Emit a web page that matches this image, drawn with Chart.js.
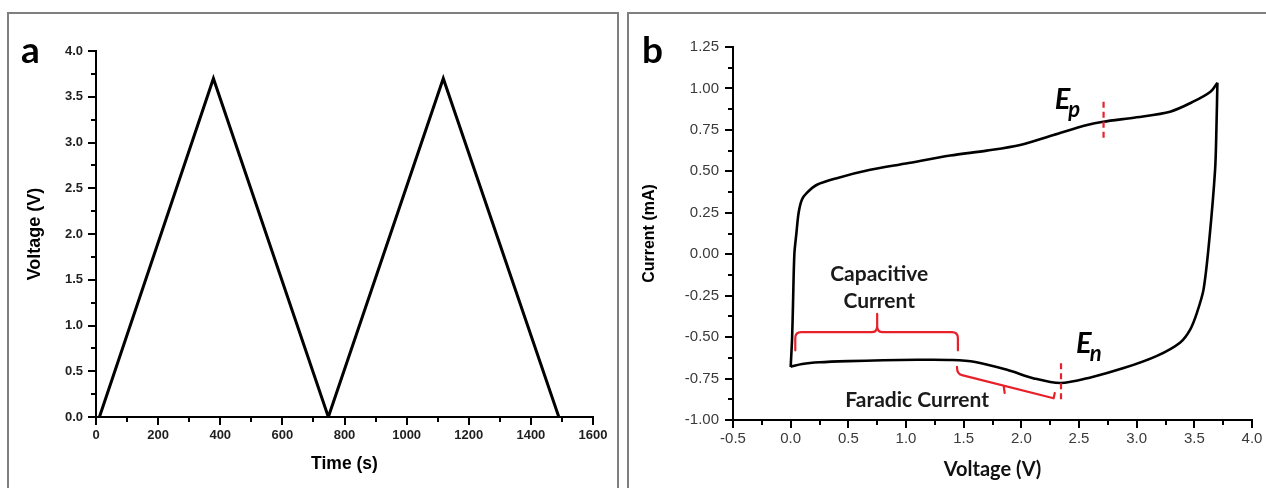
<!DOCTYPE html>
<html><head><meta charset="utf-8">
<script src="https://cdn.jsdelivr.net/npm/chart.js@4.4.1/dist/chart.umd.min.js"></script>
<style>
html,body{margin:0;padding:0;background:#fff;width:1266px;height:488px;overflow:hidden;position:relative}
.box{position:absolute;border:2px solid #7f7f7f;box-sizing:border-box}
#boxA{left:7px;top:12px;width:612px;height:520px}
#boxB{left:627px;top:12px;width:700px;height:520px}
canvas{position:absolute;top:0}
#cA{left:0}
#cB{left:620px}
</style></head><body>
<div class="box" id="boxA"></div><div class="box" id="boxB"></div>
<canvas id="cA" width="620" height="488"></canvas>
<canvas id="cB" width="646" height="488"></canvas>
<script>
// ---------- Panel a : galvanostatic charge / discharge ----------
const timeS    = [11, 378, 748, 1118, 1490];
const voltageA = [0, 3.7, 0, 3.7, 0];

// ---------- Panel b : cyclic voltammogram ----------
const upperV = [0.000, 0.012, 0.020, 0.032, 0.050, 0.069, 0.098, 0.140, 0.228, 0.400, 0.690, 1.000, 1.384, 1.700, 1.990, 2.280, 2.570, 2.710, 3.000, 3.290, 3.490, 3.640, 3.700];
const upperI = [-0.680, -0.513, -0.310, 0.000, 0.128, 0.250, 0.330, 0.370, 0.419, 0.459, 0.509, 0.547, 0.595, 0.625, 0.659, 0.719, 0.779, 0.799, 0.826, 0.860, 0.920, 0.980, 1.034];
const lowerV = [3.700, 3.692, 3.680, 3.630, 3.580, 3.523, 3.465, 3.378, 3.176, 2.887, 2.600, 2.340, 2.110, 1.876, 1.600, 1.400, 1.100, 0.800, 0.500, 0.250, 0.100, 0.000];
const lowerI = [1.034, 0.770, 0.510, 0.088, -0.212, -0.352, -0.453, -0.532, -0.613, -0.687, -0.743, -0.777, -0.749, -0.697, -0.650, -0.638, -0.637, -0.640, -0.645, -0.652, -0.662, -0.678];

// annotation anchors (data units of panel b)
const capBrace   = [0.04, 1.45, -0.47, -0.58, 0.75, -0.36];   // x1, x2, level, end level, tip x, tip level
const faraBrace  = [1.442, -0.68, -0.723, 2.28, -0.869, 2.29, -0.837]; // hook top, start, end, hook end
const faraTick   = [1.846, -0.793, 1.856, -0.837];
const dashEn     = [2.344, -0.657, -0.897];
const dashEp     = [2.713, 0.920, 0.679];
const textLabels = [['Capacitive', 0.768, -0.122], ['Current', 0.768, -0.282], ['Faradic Current', 1.097, -0.879]];
const peakLabels = [['E', 'n', 2.475, -0.597], ['E', 'p', 2.290, 0.879]];

const RED = '#e8202a';

const minorTicks = {
  id: 'minorTicks',
  afterDraw(chart) {
    const ctx = chart.ctx;
    ctx.save(); ctx.strokeStyle = '#000'; ctx.lineWidth = 2;
    ['x', 'y'].forEach(id => {
      const s = chart.scales[id];
      const t = s.ticks;
      for (let i = 0; i < t.length - 1; i++) {
        const p = Math.round(s.getPixelForValue((t[i].value + t[i + 1].value) / 2));
        ctx.beginPath();
        if (id === 'x') { ctx.moveTo(p, s.top); ctx.lineTo(p, s.top + 5); }
        else { ctx.moveTo(s.right, p); ctx.lineTo(s.right - 5, p); }
        ctx.stroke();
      }
    });
    ctx.restore();
  }
};

function panelLetter(letter, x, y) {
  return { id: 'letter' + letter, afterDraw(chart) {
    const ctx = chart.ctx; ctx.save();
    ctx.font = 'bold 37px Lato, "Open Sans", sans-serif'; ctx.fillStyle = '#000';
    ctx.textBaseline = 'alphabetic'; ctx.fillText(letter, x, y); ctx.restore();
  }};
}

const annotations = {
  id: 'annotations',
  afterDatasetsDraw(chart) {
    const ctx = chart.ctx, X = v => chart.scales.x.getPixelForValue(v), Y = v => chart.scales.y.getPixelForValue(v);
    ctx.save();
    ctx.strokeStyle = RED; ctx.lineWidth = 2.2; ctx.lineJoin = 'round'; ctx.lineCap = 'round';
    // capacitive curly brace
    const [x1, x2, lv, en, tx, tl] = capBrace;
    const px1 = X(x1), px2 = X(x2), py = Y(lv), pe = Y(en), pt = X(tx), ptt = Y(tl), r = 6;
    ctx.beginPath();
    ctx.moveTo(px1, pe); ctx.lineTo(px1, py + r); ctx.quadraticCurveTo(px1, py, px1 + r, py);
    ctx.lineTo(pt - r, py); ctx.quadraticCurveTo(pt, py, pt, py - r); ctx.lineTo(pt, ptt);
    ctx.moveTo(pt, py - r); ctx.quadraticCurveTo(pt, py, pt + r, py);
    ctx.lineTo(px2 - r, py); ctx.quadraticCurveTo(px2, py, px2, py + r); ctx.lineTo(px2, pe);
    ctx.stroke();
    // faradic bracket
    const [fx, fyTop, fy1, fx2, fy2, hx, hy] = faraBrace;
    ctx.beginPath();
    ctx.moveTo(X(fx), Y(fyTop)); ctx.quadraticCurveTo(X(fx), Y(fy1), X(fx) + 5, Y(fy1) + 1);
    ctx.lineTo(X(fx2), Y(fy2)); ctx.lineTo(X(hx), Y(hy));
    ctx.moveTo(X(faraTick[0]), Y(faraTick[1])); ctx.lineTo(X(faraTick[2]), Y(faraTick[3]));
    ctx.stroke();
    // dashed peak markers
    ctx.setLineDash([6, 4]); ctx.lineCap = 'butt';
    [dashEn, dashEp].forEach(d => { ctx.beginPath(); ctx.moveTo(X(d[0]), Y(d[1])); ctx.lineTo(X(d[0]), Y(d[2])); ctx.stroke(); });
    ctx.setLineDash([]);
    // texts
    ctx.fillStyle = '#1a1a1a'; ctx.textAlign = 'center'; ctx.textBaseline = 'middle';
    ctx.font = 'bold 21px Lato, "Open Sans", sans-serif';
    textLabels.forEach(t => ctx.fillText(t[0], X(t[1]), Y(t[2])));
    ctx.fillStyle = '#000'; ctx.textAlign = 'left'; ctx.textBaseline = 'alphabetic';
    peakLabels.forEach(t => {
      const bx = X(t[2]), by = Y(t[3]);
      ctx.font = 'italic bold 29px Lato, "Open Sans", sans-serif';
      ctx.fillText(t[0], bx, by);
      const w = ctx.measureText(t[0]).width;
      ctx.font = 'italic bold 22px Lato, "Open Sans", sans-serif';
      ctx.fillText(t[1], bx + w - 2, by + 8);
    });
    ctx.restore();
  }
};

const axisCommon = (stepSize, fmt, font, color, pad) => ({
  type: 'linear',
  ticks: { stepSize, callback: v => v.toFixed(fmt), font, color, padding: pad, maxRotation: 0, autoSkip: false },
  grid: { drawOnChartArea: false, drawTicks: true, tickLength: 8, color: '#000', lineWidth: 2, tickWidth: 2 },
  border: { display: true, color: '#000', width: 2 }
});

// ---- Chart a
const fontA = { family: '"Liberation Sans", Arial, sans-serif', size: 13, weight: 'bold' };
const xa = axisCommon(200, 0, fontA, '#1f1f1f', 3);
Object.assign(xa, { min: 0, max: 1600, afterFit: s => { s.height = 71; },
  title: { display: true, text: 'Time (s)', color: '#000', font: { family: '"Liberation Sans", Arial, sans-serif', size: 17.5, weight: 'bold' }, padding: { top: 0, bottom: 13 } } });
const ya = axisCommon(0.5, 1, fontA, '#1f1f1f', 5);
Object.assign(ya, { min: 0, max: 4, afterFit: s => { s.width = 96; },
  title: { display: true, text: 'Voltage (V)', color: '#000', font: { family: '"Liberation Sans", Arial, sans-serif', size: 18, weight: 'bold' }, padding: { top: 24, bottom: 0 } } });

new Chart(document.getElementById('cA'), {
  type: 'line',
  data: { datasets: [{ data: timeS.map((t, i) => ({ x: t, y: voltageA[i] })), borderColor: '#000', borderWidth: 3, pointRadius: 0, tension: 0, fill: false }] },
  options: {
    responsive: false, animation: false, devicePixelRatio: 1,
    layout: { padding: { left: 0, top: 51, right: 27, bottom: 0 }, autoPadding: false },
    plugins: { legend: { display: false }, tooltip: { enabled: false } },
    scales: { x: xa, y: ya }
  },
  plugins: [minorTicks, panelLetter('a', 21, 63)]
});

// ---- Chart b
const fontB = { family: '"Liberation Sans", Arial, sans-serif', size: 15, weight: 'normal' };
const xb = axisCommon(0.5, 1, fontB, '#3a3a3a', 2);
Object.assign(xb, { min: -0.5, max: 4.0, afterFit: s => { s.height = 68; },
  title: { display: true, text: 'Voltage (V)', color: '#111', font: { family: 'Lato, "Open Sans", sans-serif', size: 20, weight: 'bold' }, padding: { top: 0, bottom: 6 } } });
const yb = axisCommon(0.25, 2, fontB, '#3a3a3a', 6);
Object.assign(yb, { min: -1.0, max: 1.25, afterFit: s => { s.width = 113; },
  title: { display: true, text: 'Current (mA)', color: '#000', font: { family: '"Liberation Sans", Arial, sans-serif', size: 16, weight: 'bold' }, padding: { top: 20, bottom: 0 } } });

new Chart(document.getElementById('cB'), {
  type: 'scatter',
  data: { datasets: [
    { data: upperV.map((v, i) => ({ x: v, y: upperI[i] })), showLine: true, borderColor: '#000', borderWidth: 2.6, pointRadius: 0, tension: 0.3, fill: false },
    { data: lowerV.map((v, i) => ({ x: v, y: lowerI[i] })), showLine: true, borderColor: '#000', borderWidth: 2.6, pointRadius: 0, tension: 0.3, fill: false }
  ] },
  options: {
    responsive: false, animation: false, devicePixelRatio: 1,
    layout: { padding: { left: 0, top: 47, right: 14, bottom: 0 }, autoPadding: false },
    plugins: { legend: { display: false }, tooltip: { enabled: false } },
    scales: { x: xb, y: yb }
  },
  plugins: [minorTicks, annotations, panelLetter('b', 22, 63)]
});
</script>
</body></html>
